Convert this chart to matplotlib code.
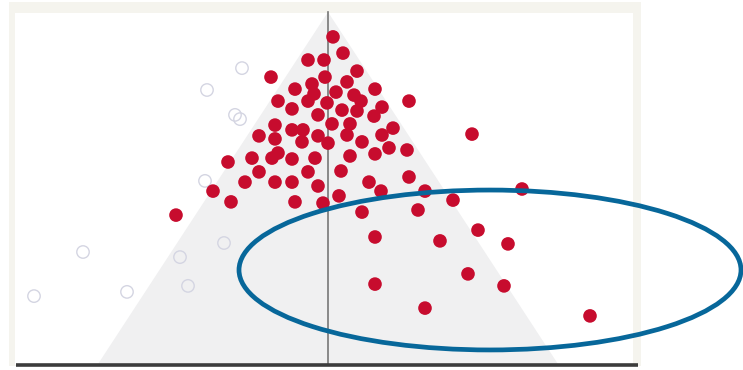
import matplotlib
matplotlib.use("Agg")
import matplotlib.pyplot as plt
from matplotlib.patches import Polygon, Rectangle, Ellipse

# --- Observed studies: effect estimate vs. standard error ---
effect = [0.05, 0.15, -0.20, -0.04, 0.29, -0.57, -0.03, 0.19, -0.33, -0.16,
          -0.14, 0.08, 0.47, 0.26, 0.33, -0.50, -0.20, -0.01, 0.81, 0.54,
          -0.36, 0.14, 0.29, -0.10, 0.46, 0.04, -0.53, -0.36, -0.25, 0.22,
          -0.10, -0.69, -0.53, -0.26, 0.00, 0.19, 0.54, 0.65, 1.44, 0.34,
          0.61, 0.79, 0.47, 0.22, -0.50, -0.56, -0.76, -0.36, -0.13, -1.00,
          -0.69, -0.20, 0.13, 0.81, -0.83, -0.53, -0.36, -0.10, 0.41, 0.53,
          0.97, 1.94, -1.15, 0.11, 1.25, -0.97, -0.33, -0.05, -1.52, 0.34,
          0.90, 0.47, 1.50, 1.12, 1.80, 1.40, 0.47, 1.76, 0.97, 2.62]
std_err = [0.083, 0.137, 0.160, 0.160, 0.197, 0.217, 0.217, 0.233, 0.257, 0.240,
           0.273, 0.267, 0.257, 0.277, 0.297, 0.297, 0.297, 0.303, 0.297, 0.317,
           0.323, 0.327, 0.330, 0.343, 0.347, 0.373, 0.377, 0.393, 0.393, 0.373,
           0.413, 0.413, 0.423, 0.433, 0.437, 0.410, 0.410, 0.387, 0.407, 0.433,
           0.453, 0.460, 0.473, 0.480, 0.470, 0.487, 0.487, 0.490, 0.487, 0.500,
           0.533, 0.533, 0.530, 0.550, 0.567, 0.567, 0.567, 0.580, 0.567, 0.597,
           0.597, 0.590, 0.597, 0.613, 0.627, 0.633, 0.633, 0.637, 0.677, 0.667,
           0.660, 0.750, 0.727, 0.763, 0.773, 0.873, 0.907, 0.913, 0.987, 1.013]

# --- Imputed (trim-and-fill) studies ---
imp_effect = [-0.86, -1.21, -0.93, -0.88, -1.23, -1.04, -2.45, -1.48, -1.40, -2.01, -2.94]
imp_std_err = [0.187, 0.260, 0.343, 0.357, 0.563, 0.770, 0.800, 0.817, 0.913, 0.933, 0.947]

pooled = 0.0
se_max = 1.1767
z = 1.96

# highlighted region of small, positive studies
hl_center = (1.62, 0.86)
hl_width = 5.02
hl_height = 0.533

fig = plt.figure(figsize=(7.43, 3.70), dpi=100)
fig.patch.set_facecolor("white")
ax = fig.add_axes([0, 0, 1, 1])
ax.set_xlim(-3.28, 4.15)
ax.set_ylim(1.19333, -0.04)
ax.axis("off")

# panel frame
ax.add_patch(Rectangle((9 / 743, 1 - 366 / 370), 632 / 743, 364 / 370,
                       transform=ax.transAxes, facecolor="#f5f4ee",
                       edgecolor="none", zorder=0))
ax.add_patch(Rectangle((15 / 743, 1 - 365 / 370), 618 / 743, 352 / 370,
                       transform=ax.transAxes, facecolor="white",
                       edgecolor="none", zorder=0.5))

# funnel
ax.add_patch(Polygon([(pooled, 0), (pooled - z * se_max, se_max),
                      (pooled + z * se_max, se_max)],
                     closed=True, facecolor="#f0f0f1", edgecolor="none", zorder=1))
ax.plot([pooled, pooled], [0, se_max], color="#777777", lw=1.2, zorder=2)

ax.scatter(imp_effect, imp_std_err, s=80, facecolor="none",
           edgecolor="#d4d5e2", linewidth=1.0, zorder=3)
ax.scatter(effect, std_err, s=96, color="#c70c2e", edgecolor="none", zorder=4)

ax.add_patch(Ellipse(hl_center, hl_width, hl_height, facecolor="none",
                     edgecolor="#07679a", lw=3.4, zorder=5, clip_on=False))

# bottom axis line
ax.plot([-3.12, 3.10], [se_max, se_max], color="#3c3c3c", lw=2.6,
        solid_capstyle="butt", zorder=6)

fig.savefig("out.png", dpi=100)
